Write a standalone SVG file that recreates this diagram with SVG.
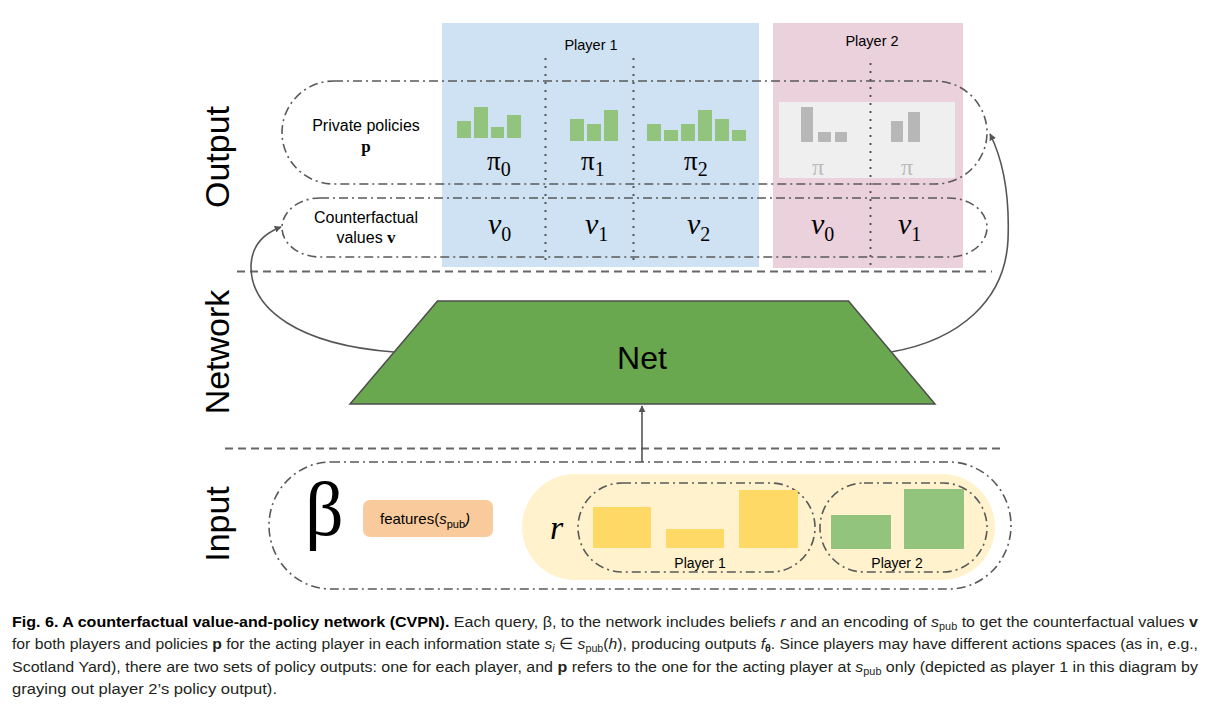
<svg xmlns="http://www.w3.org/2000/svg" width="1211" height="708" viewBox="0 0 1211 708">
<defs>
<style>
.sans{font-family:"Liberation Sans",Arial,sans-serif}
.serif{font-family:"Liberation Serif","Times New Roman",serif}
.dd{fill:none;stroke:#595959;stroke-width:1.6;stroke-dasharray:9 4 2 4}
.dash{fill:none;stroke:#666;stroke-width:2;stroke-dasharray:8 5}
.dot{fill:none;stroke:#555;stroke-width:2;stroke-dasharray:2 6}
.gbar{fill:#93c47d}
.ybar{fill:#ffd966}
.graybar{fill:#b7b7b7}
.conn{fill:none;stroke:#555;stroke-width:1.6}
.cap{font-family:"Liberation Sans",Arial,sans-serif;font-size:15.5px;fill:#231f20}
</style>
<marker id="ah" viewBox="0 0 10 10" refX="9" refY="5" markerWidth="7" markerHeight="7" orient="auto" markerUnits="userSpaceOnUse">
<path d="M0,0 L10,5 L0,10 z" fill="#555"/>
</marker>
</defs>
<rect width="1211" height="708" fill="#fff"/>

<!-- panels -->
<g id="player1-panel">
<rect x="442" y="23" width="317" height="244" fill="#cfe2f3"/>
<text class="sans" x="591" y="50" font-size="14.5" text-anchor="middle">Player 1</text>
<line class="dot" x1="545.5" y1="58" x2="545.5" y2="264"/>
<line class="dot" x1="633.5" y1="58" x2="633.5" y2="264"/>
</g>
<g id="player2-panel">
<rect x="773" y="23" width="190" height="245" fill="#ead1dc"/>
<text class="sans" x="872" y="46" font-size="14.5" text-anchor="middle">Player 2</text>
<rect x="779" y="102" width="176" height="76" fill="#efefef"/>
<line class="dot" x1="870.5" y1="63" x2="870.5" y2="267"/>
</g>

<!-- section labels -->
<g id="section-labels" class="sans" font-size="34" fill="#000">
<text transform="translate(229,157) rotate(-90)" text-anchor="middle">Output</text>
<text transform="translate(229,352) rotate(-90)" text-anchor="middle">Network</text>
<text transform="translate(229,524) rotate(-90)" text-anchor="middle">Input</text>
</g>
<line class="dash" x1="237" y1="271.5" x2="992" y2="271.5"/>
<line class="dash" x1="225" y1="448.5" x2="1002" y2="448.5"/>

<!-- output: private policies -->
<g id="private-policies">
<rect class="dd" x="282" y="81" width="705" height="103" rx="52" ry="51.5"/>
<text class="sans" x="366" y="131" font-size="16" text-anchor="middle">Private policies</text>
<text class="serif" x="366" y="152" font-size="17" font-weight="bold" text-anchor="middle">p</text>
<rect class="gbar" x="457" y="121" width="14" height="17"/>
<rect class="gbar" x="474" y="107" width="14" height="31"/>
<rect class="gbar" x="491" y="127" width="13" height="11"/>
<rect class="gbar" x="507" y="115" width="14" height="23"/>
<rect class="gbar" x="570" y="119" width="14" height="22"/>
<rect class="gbar" x="587" y="124" width="14" height="17"/>
<rect class="gbar" x="604" y="110" width="14" height="31"/>
<rect class="gbar" x="647" y="124" width="14" height="17"/>
<rect class="gbar" x="664" y="130" width="14" height="11"/>
<rect class="gbar" x="681" y="124" width="14" height="17"/>
<rect class="gbar" x="698" y="110" width="14" height="31"/>
<rect class="gbar" x="715" y="119" width="14" height="22"/>
<rect class="gbar" x="732" y="130" width="14" height="11"/>
<text class="serif" x="487" y="170" font-size="27">π<tspan font-size="20" dy="6">0</tspan></text>
<text class="serif" x="581" y="170" font-size="27">π<tspan font-size="20" dy="6">1</tspan></text>
<text class="serif" x="684" y="170" font-size="27">π<tspan font-size="20" dy="6">2</tspan></text>
<rect class="graybar" x="801" y="107" width="12" height="35"/>
<rect class="graybar" x="818" y="132" width="13" height="10"/>
<rect class="graybar" x="835" y="132" width="12" height="10"/>
<rect class="graybar" x="891" y="121" width="12" height="21"/>
<rect class="graybar" x="908" y="112" width="12" height="30"/>
<text class="serif" x="818" y="175" font-size="24" fill="#bbb" text-anchor="middle">π</text>
<text class="serif" x="907" y="175" font-size="24" fill="#bbb" text-anchor="middle">π</text>
</g>

<!-- output: counterfactual values -->
<g id="counterfactual-values">
<rect class="dd" x="282" y="198" width="705" height="59" rx="38" ry="29.5"/>
<text class="sans" x="366" y="223" font-size="16" text-anchor="middle">Counterfactual</text>
<text class="sans" x="366" y="243" font-size="16" text-anchor="middle">values <tspan class="serif" font-weight="bold" font-size="17">v</tspan></text>
<g class="serif" font-size="30" font-style="italic">
<text x="488" y="234">v<tspan font-size="20" font-style="normal" dy="7">0</tspan></text>
<text x="585" y="234">v<tspan font-size="20" font-style="normal" dy="7">1</tspan></text>
<text x="687" y="234">v<tspan font-size="20" font-style="normal" dy="7">2</tspan></text>
<text x="811" y="234">v<tspan font-size="20" font-style="normal" dy="7">0</tspan></text>
<text x="898" y="234">v<tspan font-size="20" font-style="normal" dy="7">1</tspan></text>
</g>
</g>

<!-- network -->
<g id="net">
<polygon points="437.5,301 848.5,301 935,404 350,404" fill="#6aa84f" stroke="#4d4d4d" stroke-width="1.5"/>
<text class="sans" x="642" y="369" font-size="32" text-anchor="middle">Net</text>
</g>

<!-- input -->
<g id="input">
<rect class="dd" x="269" y="462" width="742" height="127" rx="62" ry="63.5"/>
<text class="serif" x="305" y="535" font-size="76">β</text>
<rect x="363" y="500" width="130" height="37" rx="7" fill="#f9cb9c"/>
<text class="sans" x="380" y="524" font-size="15">features(<tspan font-style="italic">s</tspan><tspan font-size="11" dy="4">pub</tspan><tspan dy="-4" font-style="italic">)</tspan></text>
</g>
<g id="beliefs">
<rect x="522" y="474" width="473" height="106" rx="53" fill="#fff2cc"/>
<text class="serif" x="550" y="539" font-size="34" font-style="italic">r</text>
</g>
<g id="beliefs-player1">
<rect class="dd" x="578" y="483" width="237" height="89" rx="44" ry="44.5"/>
<rect class="ybar" x="593" y="507" width="58" height="41"/>
<rect class="ybar" x="666" y="529" width="58" height="19"/>
<rect class="ybar" x="739" y="490" width="59" height="58"/>
<text class="sans" x="700" y="568" font-size="14" text-anchor="middle">Player 1</text>
</g>
<g id="beliefs-player2">
<rect class="dd" x="820" y="483" width="167" height="89" rx="44" ry="44.5"/>
<rect class="gbar" x="831" y="515" width="60" height="34"/>
<rect class="gbar" x="904" y="489" width="60" height="60"/>
<text class="sans" x="897" y="568" font-size="14" text-anchor="middle">Player 2</text>
</g>

<!-- connectors -->
<g id="connectors">
<path class="conn" d="M642,462 L642,406" marker-end="url(#ah)"/>
<path class="conn" d="M394,352 C300,345 250,310 251,265 C252,245 265,233 281,227" marker-end="url(#ah)"/>
<path class="conn" d="M891,352 C960,340 1005,300 1008,240 C1010,190 1002,158 990,134" marker-end="url(#ah)"/>
</g>

<!-- caption -->
<g id="caption">
<text class="cap" x="12" y="627" textLength="1186" lengthAdjust="spacingAndGlyphs"><tspan font-weight="bold" fill="#000">Fig. 6. A counterfactual value-and-policy network (CVPN).</tspan> Each query, β, to the network includes beliefs <tspan font-style="italic">r</tspan> and an encoding of <tspan font-style="italic">s</tspan><tspan font-size="10.5" dy="3">pub</tspan><tspan dy="-3"> to get the counterfactual values </tspan><tspan font-weight="bold">v</tspan></text>
<text class="cap" x="12" y="649" textLength="1186" lengthAdjust="spacingAndGlyphs">for both players and policies <tspan font-weight="bold">p</tspan> for the acting player in each information state <tspan font-style="italic">s</tspan><tspan font-style="italic" font-size="10.5" dy="3">i</tspan><tspan dy="-3"> ∈ </tspan><tspan font-style="italic">s</tspan><tspan font-size="10.5" dy="3">pub</tspan><tspan dy="-3">(</tspan><tspan font-style="italic">h</tspan>), producing outputs <tspan font-style="italic">f</tspan><tspan font-size="10.5" font-weight="bold" dy="3">θ</tspan><tspan dy="-3">. Since players may have different actions spaces (as in, e.g.,</tspan></text>
<text class="cap" x="12" y="672" textLength="1186" lengthAdjust="spacingAndGlyphs">Scotland Yard), there are two sets of policy outputs: one for each player, and <tspan font-weight="bold">p</tspan> refers to the one for the acting player at <tspan font-style="italic">s</tspan><tspan font-size="10.5" dy="3">pub</tspan><tspan dy="-3"> only (depicted as player 1 in this diagram by</tspan></text>
<text class="cap" x="12" y="694" textLength="265" lengthAdjust="spacingAndGlyphs">graying out player 2’s policy output).</text>
</g>
</svg>
